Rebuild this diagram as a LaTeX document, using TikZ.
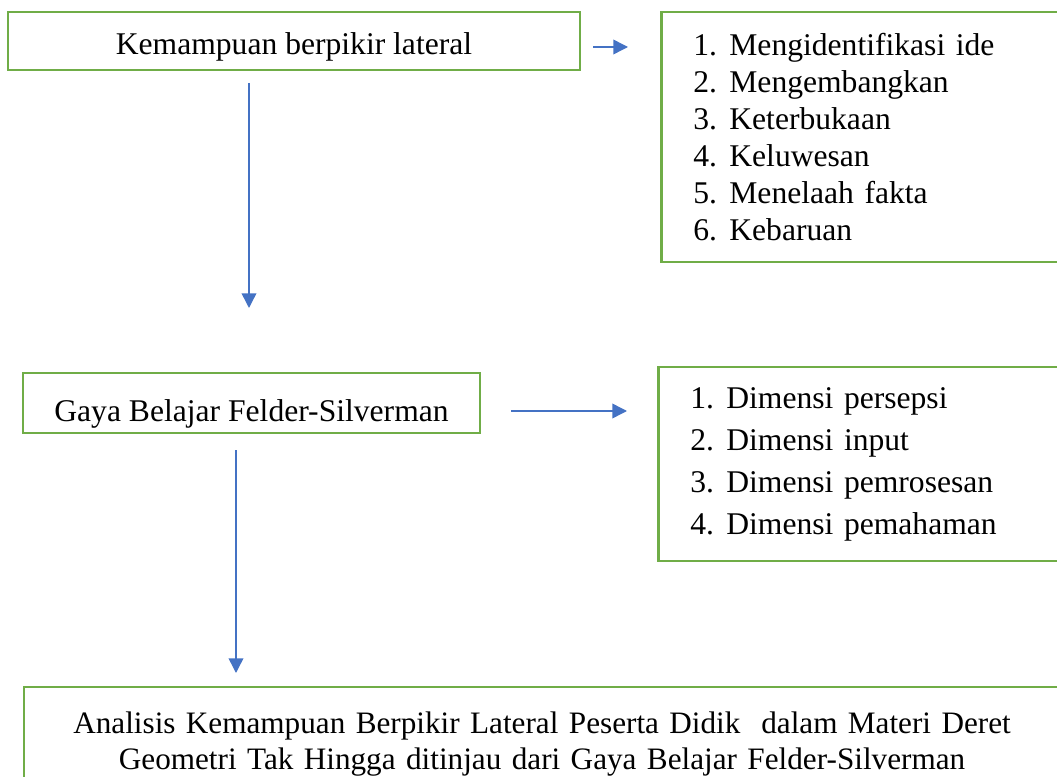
\documentclass[tikz,border=0pt]{standalone}
\usepackage{fontspec}
\setmainfont{Liberation Serif}
\usetikzlibrary{arrows.meta}

\definecolor{boxgreen}{RGB}{112,173,71}
\definecolor{arrowblue}{RGB}{68,114,196}

\tikzset{
  greenbox/.style={draw=boxgreen, line width=2.1pt, inner sep=0pt,
    font=\fontsize{23.7pt}{27.75pt}\selectfont},
  listbox/.style={greenbox, anchor=west, inner xsep=24pt, text width=252pt, align=left},
  bluearrow/.style={draw=arrowblue, line width=1.1pt, -{Triangle[length=11pt,width=11pt]}}
}
\newcommand{\itemno}[1]{\makebox[27pt][l]{#1}}
\newcommand{\lowered}[1]{\rule{0pt}{#1}}

\begin{document}
\begin{tikzpicture}[x=0.75pt,y=0.75pt,yscale=-1,xscale=1]
\useasboundingbox (0,0) rectangle (1057,777);

%Shape: Rectangle [top left]
\node[greenbox, minimum width=429pt, minimum height=43.5pt] (lateral) at (294,41) {\lowered{25.4pt}Kemampuan berpikir lateral};
%Shape: Rectangle [indikator]
\node[listbox, minimum height=187.5pt] (indikator) at (660,137) {%
  \itemno{1.}Mengidentifikasi ide\\
  \itemno{2.}Mengembangkan\\
  \itemno{3.}Keterbukaan\\
  \itemno{4.}Keluwesan\\
  \itemno{5.}Menelaah fakta\\
  \itemno{6.}Kebaruan};
%Shape: Rectangle [gaya belajar]
\node[greenbox, minimum width=342.75pt, minimum height=45pt] (gaya) at (251.5,403) {\lowered{32.9pt}Gaya Belajar Felder-Silverman};
%Shape: Rectangle [dimensi]
\node[listbox, minimum height=145.5pt, font=\fontsize{23.7pt}{31.5pt}\selectfont] (dimensi) at (657,464) {%
  \itemno{1.}Dimensi persepsi\\
  \itemno{2.}Dimensi input\\
  \itemno{3.}Dimensi pemrosesan\\
  \itemno{4.}Dimensi pemahaman};
%Shape: Rectangle [analisis]
\node[greenbox, minimum width=777pt, minimum height=79.5pt, text width=760pt, align=center,
  font=\fontsize{23.4pt}{27pt}\selectfont] (analisis) at (542,740) {%
  \lowered{21.6pt}Analisis Kemampuan Berpikir Lateral Peserta Didik~ dalam Materi Deret\\
  Geometri Tak Hingga ditinjau dari Gaya Belajar Felder-Silverman};

%Straight Lines [arrow ends]
\coordinate (lateralR) at (593,47);
\coordinate (indikatorL) at (628,47);
\coordinate (lateralB) at (249,83);
\coordinate (gayaT) at (249,308);
\coordinate (gayaR) at (511,411);
\coordinate (dimensiL) at (627,411);
\coordinate (gayaB) at (236,450);
\coordinate (analisisT) at (236,673);

\draw[bluearrow] (lateralR) -- (indikatorL);
\draw[bluearrow] (lateralB) -- (gayaT);
\draw[bluearrow] (gayaR) -- (dimensiL);
\draw[bluearrow] (gayaB) -- (analisisT);

\end{tikzpicture}
\end{document}
